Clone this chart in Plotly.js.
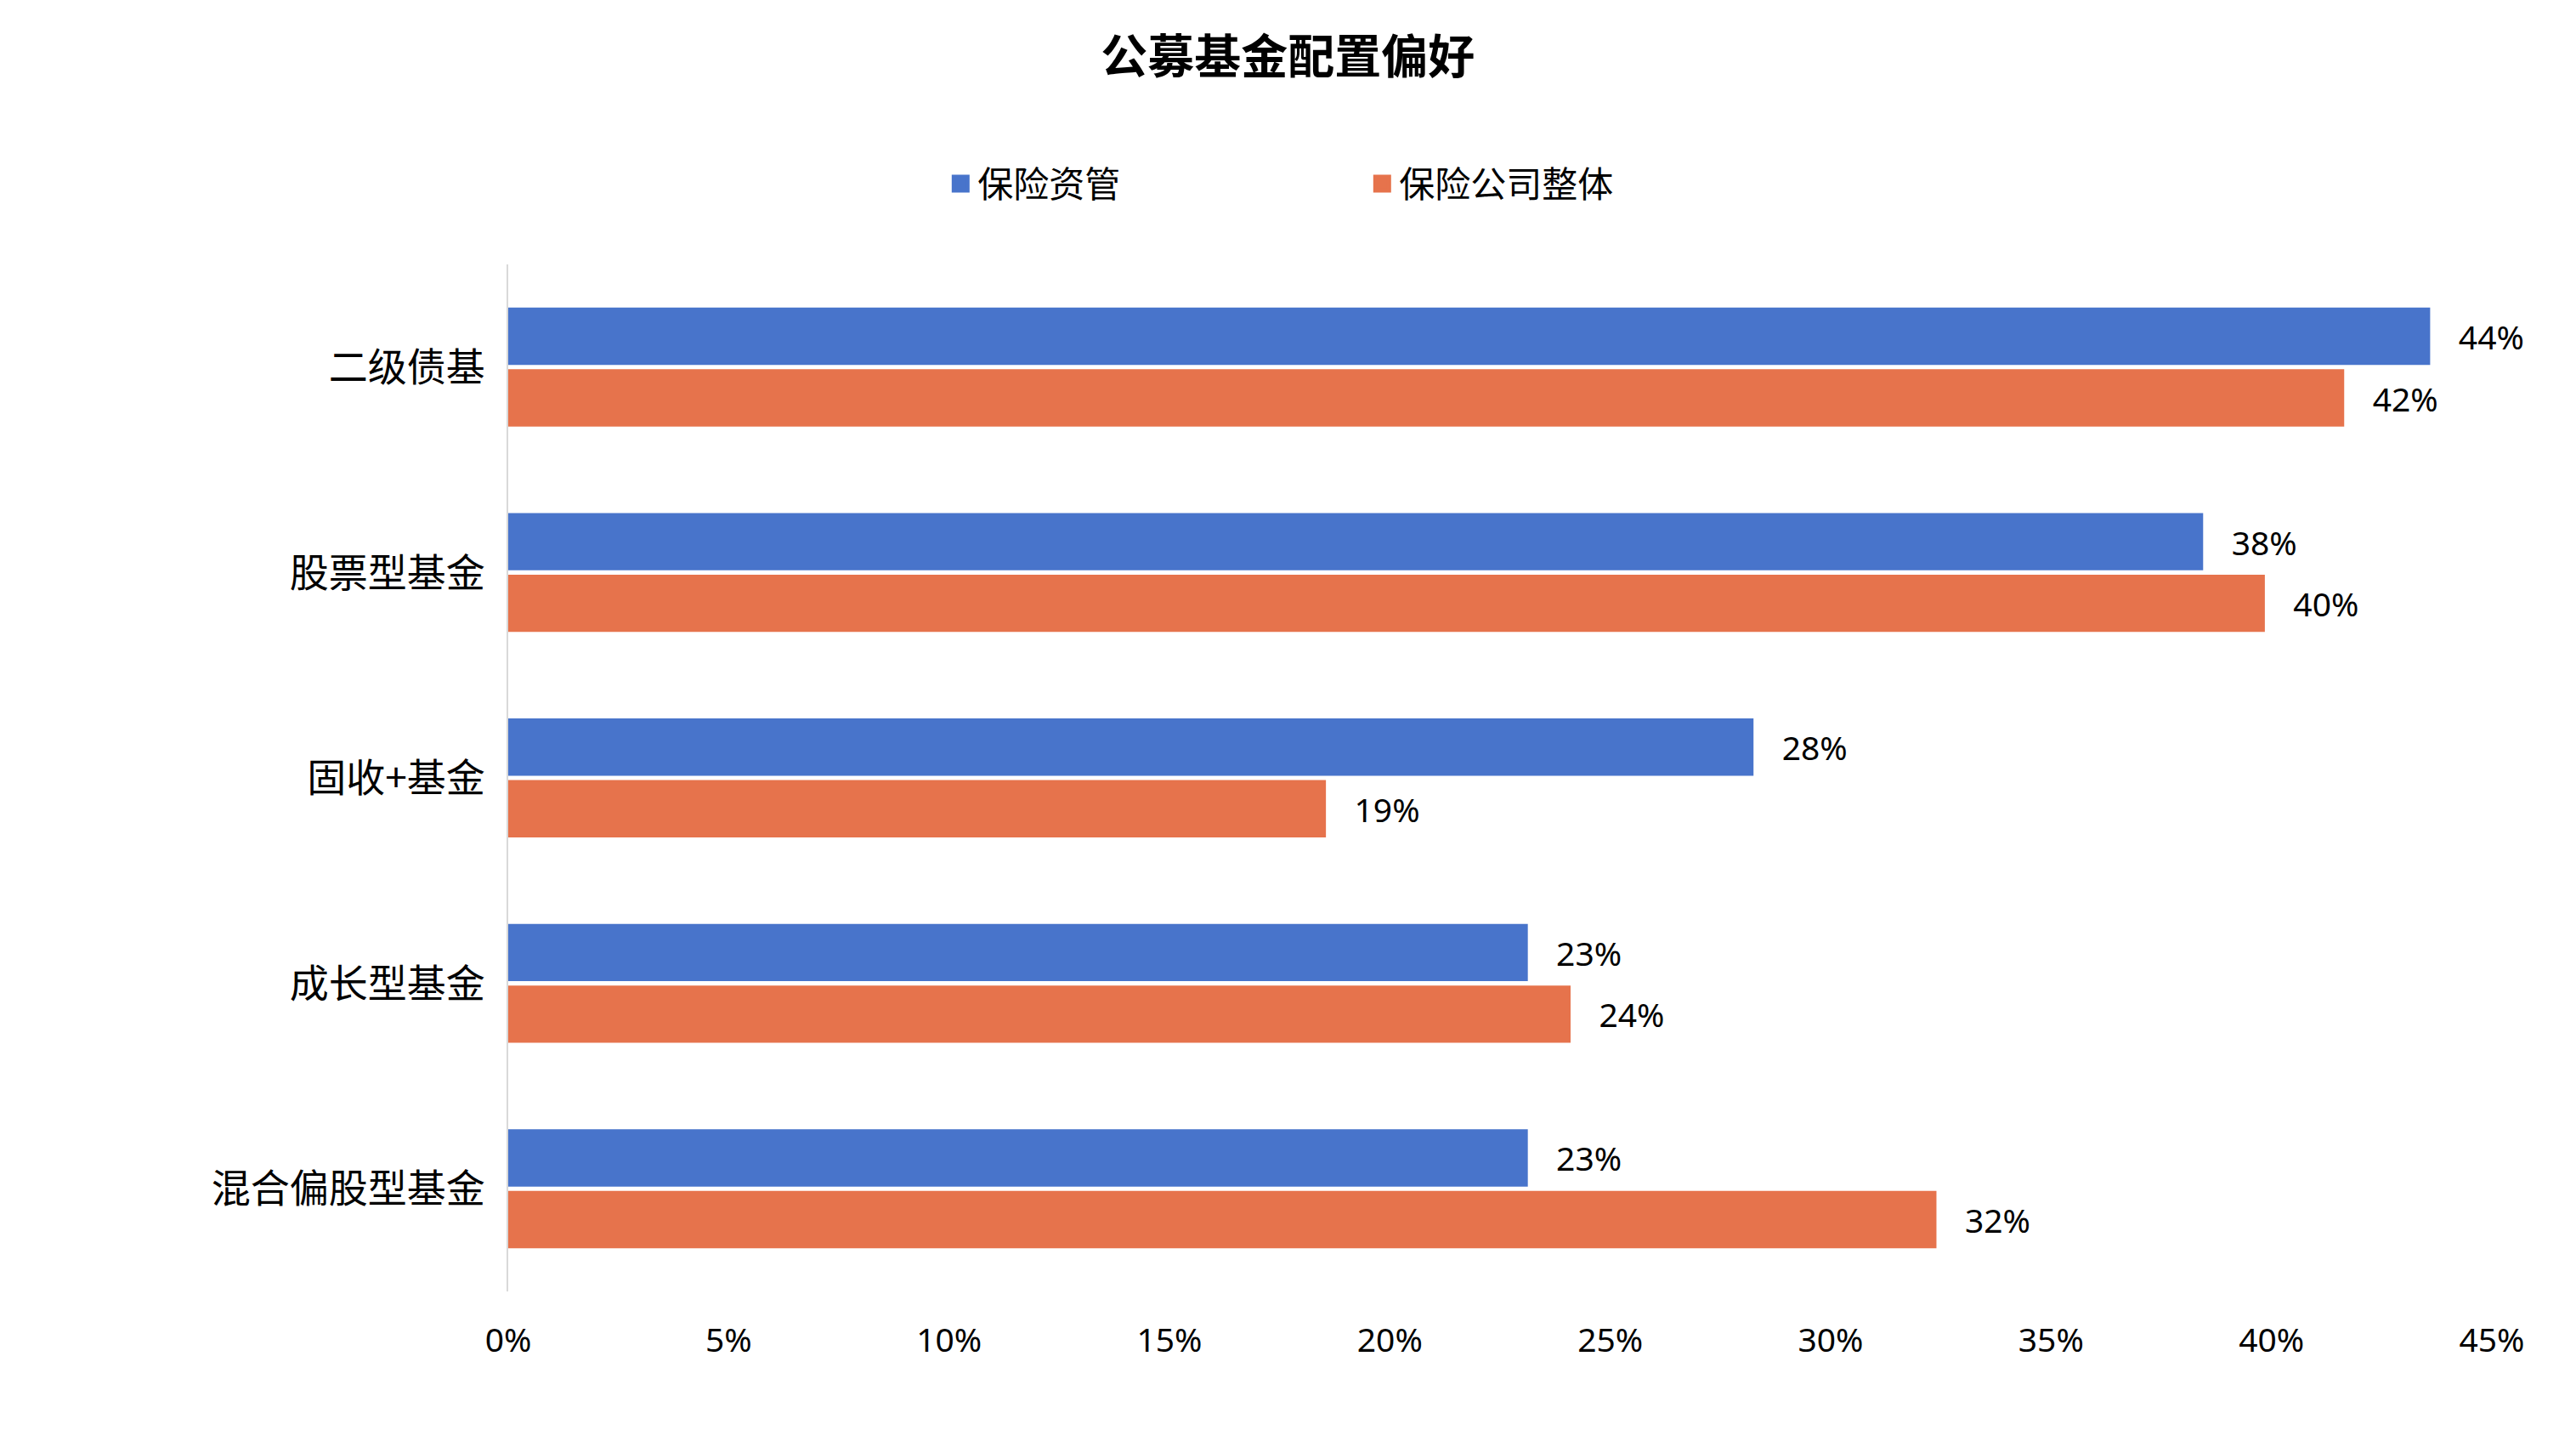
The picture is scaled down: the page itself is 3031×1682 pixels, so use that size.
<!DOCTYPE html>
<html>
<head>
<meta charset="utf-8">
<script src="https://cdn.plot.ly/plotly-3.0.1.min.js"></script>
<style>html,body{margin:0;padding:0;background:#fff;}#chart{width:3031px;height:1682px;}</style>
</head>
<body>
<div id="chart"></div>
<script>
// Data
const categories = ['二级债基', '股票型基金', '固收+基金', '成长型基金', '混合偏股型基金'];
const seriesNames = ['保险资管', '保险公司整体'];
const insAssetMgmt = [0.4360, 0.3845, 0.2825, 0.2313, 0.2313];
const insCompanyTotal = [0.4165, 0.3985, 0.1855, 0.2410, 0.3240];
const xTickVals = [0, 0.05, 0.10, 0.15, 0.20, 0.25, 0.30, 0.35, 0.40, 0.45];

const colors = ['#4874CB', '#E6734C'];
const baseFont = 'Noto Sans, Noto Sans CJK SC, sans-serif';
const pad = '\u00a0\u00a0\u00a0';

const barTrace = (vals, i) => ({
  type: 'bar',
  orientation: 'h',
  name: seriesNames[i],
  y: categories,
  x: vals,
  marker: {color: colors[i]},
  texttemplate: pad + '%{x:.0%}',
  textposition: 'outside',
  textfont: {family: baseFont, size: 39, color: '#000'},
  cliponaxis: false,
  showlegend: false,
  hoverinfo: 'skip'
});

const legendTrace = (i) => ({
  type: 'scatter',
  mode: 'markers',
  name: seriesNames[i],
  x: [null],
  y: [null],
  marker: {symbol: 'square', size: 16, color: colors[i], line: {color: colors[i], width: 5}},
  hoverinfo: 'skip'
});

const data = [
  barTrace(insAssetMgmt, 0),
  barTrace(insCompanyTotal, 1),
  legendTrace(0),
  legendTrace(1)
];

const layout = {
  width: 3031,
  height: 1682,
  paper_bgcolor: '#fff',
  plot_bgcolor: '#fff',
  margin: {l: 598, r: 99, t: 311, b: 163, pad: 0},
  barmode: 'group',
  bargap: 0.40,
  bargroupgap: 0.07,
  font: {family: baseFont, color: '#000'},
  title: {
    text: '<b>公募基金配置偏好</b>',
    font: {family: 'Noto Sans CJK SC, sans-serif', size: 55, color: '#000'},
    x: 0.4999, xref: 'container', xanchor: 'center',
    y: 1 - 67 / 1682, yref: 'container', yanchor: 'middle'
  },
  legend: {
    orientation: 'h',
    x: 0.2195, xanchor: 'left',
    y: 1.0785, yanchor: 'middle',
    font: {family: baseFont, size: 42, color: '#000'},
    entrywidth: 451,
    entrywidthmode: 'pixels',
    itemclick: false,
    itemdoubleclick: false,
    bgcolor: 'rgba(0,0,0,0)'
  },
  xaxis: {
    range: [0, 0.45],
    tickvals: xTickVals,
    tickformat: '.0%',
    showgrid: false,
    zeroline: false,
    showline: false,
    ticks: 'outside',
    ticklen: 23,
    tickcolor: 'rgba(0,0,0,0)',
    tickfont: {family: baseFont, size: 39, color: '#000'},
    fixedrange: true
  },
  yaxis: {
    type: 'category',
    categoryorder: 'array',
    categoryarray: categories,
    range: [categories.length - 0.5, -0.5],
    showgrid: false,
    zeroline: false,
    showline: true,
    linecolor: '#d9d9d9',
    linewidth: 2,
    ticks: 'outside',
    ticklen: 16,
    tickcolor: 'rgba(0,0,0,0)',
    tickfont: {family: 'Noto Sans CJK SC, sans-serif', size: 46, color: '#000'},
    fixedrange: true
  },
  showlegend: true
};

Plotly.newPlot('chart', data, layout, {displayModeBar: false, staticPlot: true});
</script>
</body>
</html>
